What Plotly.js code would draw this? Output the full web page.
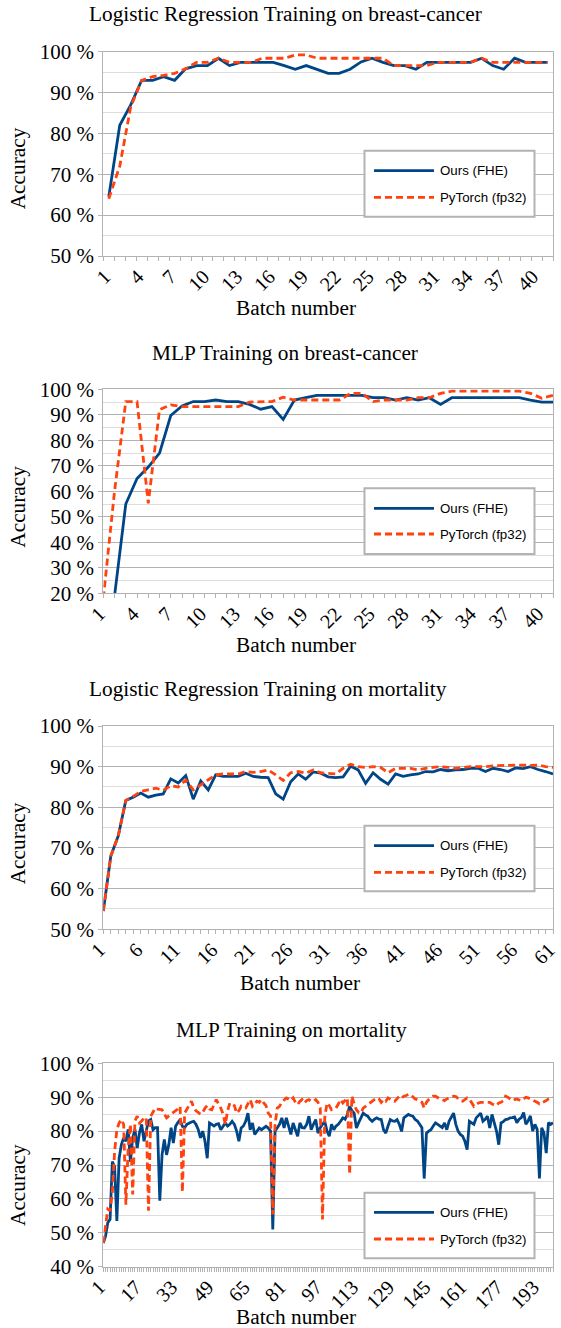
<!DOCTYPE html>
<html><head><meta charset="utf-8">
<script src="https://cdn.plot.ly/plotly-3.0.1.min.js"></script>
<style>html,body{margin:0;padding:0;background:#fff}#chart{width:561px;height:1328px}</style>
</head><body><div id="chart"></div>
<script>
// ---------------- DATA ----------------
const chartTitles = [
  'Logistic Regression Training on breast-cancer',
  'MLP Training on breast-cancer',
  'Logistic Regression Training on mortality',
  'MLP Training on mortality'
];
const seriesNames = ['Ours (FHE)', 'PyTorch (fp32)'];
const xAxisTitle = 'Batch number';
const yAxisTitle = 'Accuracy';

const lrBcFhe = [64.5, 82, 87, 93, 93, 93.9, 93, 95.8, 96.6, 96.6, 98.4, 96.6, 97.4, 97.4, 97.4, 97.4, 96.6, 95.7, 96.6, 95.7,
  94.7, 94.7, 95.7, 97.5, 98.4, 97.4, 96.6, 96.6, 95.7, 97.4, 97.4, 97.4, 97.4, 97.4, 98.4, 96.6, 95.7, 98.4, 97.4, 97.4, 97.4];
const lrBcTorch = [64, 72, 86.5, 93, 93.9, 94.2, 94.7, 95.8, 97.4, 97.4, 98.4, 97.4, 97.4, 97.4, 98.4, 98.4, 98.4, 99.2, 99.2, 98.4,
  98.4, 98.4, 98.4, 98.4, 98.4, 98.4, 96.6, 96.6, 96.6, 96.6, 97.4, 97.4, 97.4, 97.4, 98.4, 97.4, 97.4, 97.4, 97.4, 97.4, 97.4];

const mlpBcFhe = [8, 19, 55, 65, 69.5, 75, 89.7, 93.5, 95.2, 95.2, 95.8, 95.2, 95.2, 94.1, 92.2, 93.2, 88.2, 95.8, 96.7, 97.6,
  97.6, 97.6, 97.6, 97.6, 96.7, 96.7, 95.8, 96.7, 95.8, 96.7, 94.1, 96.7, 96.7, 96.7, 96.7, 96.7, 96.7, 96.7, 95.8, 95, 95];
const mlpBcTorch = [18, 60, 95.2, 95.2, 55.3, 92, 93.9, 93.2, 93.2, 93.2, 93.2, 93.2, 93.2, 95, 95.2, 95.2, 96.9, 95.8, 95.8, 95.8,
  95.8, 95.8, 98.4, 98.4, 95.2, 95.8, 95.8, 95.8, 96.7, 96.7, 98.4, 99.3, 99.3, 99.3, 99.3, 99.3, 99.3, 99.3, 98.4, 96.5, 97.6];

const lrMoFhe = [54.5, 68, 73, 81.7, 82.5, 83.5, 82.5, 83, 83.3, 87, 86, 87.8, 82, 86.5, 84.3, 88, 87.6, 87.6, 87.6, 88.4,
  87.6, 87.4, 87.3, 83.3, 82, 86.3, 88.2, 86.9, 88.7, 88.4, 87.5, 87.3, 87.5, 90.1, 89.2, 85.9, 88.5, 86.9, 85.7, 88.2,
  87.6, 88, 88.2, 88.8, 88.7, 89.3, 89, 89.2, 89.3, 89.6, 89.6, 88.8, 89.6, 89.3, 88.8, 89.7, 89.5, 90, 89.3, 88.8, 88.2];
const lrMoTorch = [54.5, 68, 73, 81.7, 82.7, 83.9, 84.3, 84.7, 84.2, 85.3, 85, 86.7, 84.3, 85.5, 86.7, 88, 88.2, 88.2, 88.2, 88.8,
  88.6, 88.8, 89.2, 88, 86.6, 88.5, 88.8, 88.4, 89.2, 88.5, 88.4, 88.2, 89.6, 90.6, 90, 89.8, 90, 89.8, 88.5, 89.6,
  89.6, 89.6, 89.2, 89.6, 89.8, 90, 89.8, 89.6, 89.8, 90, 90, 90, 90.2, 90.3, 90.4, 90.4, 90.4, 90.3, 90.4, 90, 89.8];

const mlpMoFhe = [
  47, 49, 53, 54, 71, 69.5, 53.5, 72, 76, 78,
  77, 80.5, 71, 78, 80.5, 75, 79.5, 82, 77, 80.5,
  83, 83.4, 80.4, 81, 81, 59.5, 73, 77.5, 73, 76,
  81, 76.5, 81.4, 82.5, 83.4, 81.4, 81, 82, 82.4, 82.7,
  82.9, 82, 80.5, 78, 80, 77, 72, 82.4, 82, 81.5,
  82, 82.2, 80.4, 81.5, 82.4, 81.5, 82, 82.9, 82, 80,
  77, 80.9, 81.5, 82.9, 85.3, 80.4, 82.4, 79, 80, 80.9,
  80.4, 81, 81.4, 80.9, 80, 51, 80, 81, 82, 83.9,
  80.9, 83.9, 81, 79, 82.4, 80.5, 78.5, 82.4, 81, 80.9,
  82, 84.4, 80.4, 82, 83.4, 79.4, 81, 82, 82.9, 80,
  78.5, 82, 80.4, 81.5, 82, 82.9, 83.9, 83.5, 84.9, 87.3,
  86, 85.3, 80.9, 82.5, 83.9, 85.3, 84.8, 84.4, 83.5, 82.9,
  83.5, 83.9, 83.5, 83.4, 80.4, 79.4, 81.5, 83.4, 83, 82.9,
  83.4, 82, 79.9, 83.9, 84.4, 84.9, 84.6, 84.4, 83.4, 83,
  82, 81, 66, 79.4, 80, 80.4, 81.5, 82.4, 82, 81.5,
  81, 82.4, 80.4, 82.9, 84, 85.3, 82, 80, 79, 78.5,
  77, 74.5, 82.9, 82.5, 82, 83.9, 84.5, 85.3, 82.9, 83.5,
  84.4, 80.9, 84.9, 82, 80, 76, 82.4, 82.8, 83.4, 83.5,
  83.9, 84, 84.2, 82.5, 83.5, 84, 85.5, 82, 83, 84.5,
  80, 82, 80.5, 66, 81, 79.5, 73.5, 82.5, 82, 82.5];
const mlpMoTorch = [
  47, 52, 57, 56.5, 62, 74, 80.4, 82.4, 83.4, 82,
  58.3, 75, 82, 61.3, 83, 84.4, 82.4, 83, 83.9, 84,
  56.5, 84.4, 85.5, 86.8, 86.5, 86.3, 86.3, 85, 83.9, 84.5,
  85, 85.3, 86, 86.5, 87.3, 62, 85.3, 86.5, 87.5, 88.8,
  87, 86, 85.5, 85, 85.5, 86.8, 87.5, 86.5, 86.3, 88,
  89.3, 88, 86.8, 85, 82, 86, 88.3, 88, 87.5, 85.3,
  86, 87.3, 86.8, 86.8, 88, 89.3, 87.3, 88, 88.8, 88.5,
  89.3, 88.3, 87.5, 85.3, 84.5, 55.4, 82, 86.8, 87.3, 88.5,
  89.3, 89.8, 89.5, 89, 89.8, 88.5, 87.8, 88.8, 89.3, 88.3,
  89, 89.3, 88.8, 88.8, 89.3, 88.5, 86.8, 53.9, 84, 88.3,
  87.5, 86.3, 86.5, 86.8, 88, 89.3, 88.3, 89, 89.8, 67.2,
  90.3, 88, 86.3, 85.5, 85.3, 86.8, 87.3, 87.8, 88.3, 88.8,
  89.3, 89.8, 89.5, 88.5, 89.3, 88.8, 89.8, 89.3, 89, 88.8,
  89.5, 90.3, 89.8, 90.3, 90.5, 90.8, 90.8, 90, 89.5, 89.3,
  89, 88.5, 86.8, 88.5, 89.3, 89.8, 90.3, 90.3, 89.8, 89.5,
  89.3, 89, 89.5, 89.8, 90, 90.3, 90.2, 89.5, 89, 88.8,
  89.3, 89.8, 89.5, 88.5, 87.3, 87.8, 88.3, 88.5, 88.5, 88.3,
  88.3, 88.5, 88, 87.8, 87.5, 88.3, 88.5, 89, 90.3, 90,
  89.5, 89, 89.3, 89.5, 89.2, 89, 89.5, 90, 89.8, 89.5,
  89.2, 89, 88.5, 88, 88.3, 88.5, 89, 89.5, 89.8, 90];

const bcTickLabels = [1, 4, 7, 10, 13, 16, 19, 22, 25, 28, 31, 34, 37, 40];
const lrMoTickLabels = [1, 6, 11, 16, 21, 26, 31, 36, 41, 46, 51, 56, 61];
const mlpMoTickLabels = [1, 17, 33, 49, 65, 81, 97, 113, 129, 145, 161, 177, 193];
const yTicksLrBc = [50, 60, 70, 80, 90, 100];
const yTicksMlpBc = [20, 30, 40, 50, 60, 70, 80, 90, 100];
const yTicksLrMo = [50, 60, 70, 80, 90, 100];
const yTicksMlpMo = [40, 50, 60, 70, 80, 90, 100];

// ---------------- LAYOUT / STYLE ----------------
const W = 561, H = 1328;
const px = v => v / W;
const py = v => 1 - v / H;
const BLUE = '#004586', RED = '#ff420e';
const SERIF = 'Liberation Serif, Times New Roman, serif';
const SANS = 'Liberation Sans, Arial, sans-serif';
const plotLeft = 103.3, plotRight = 553;

const panels = [
  {fhe: lrBcFhe, torch: lrBcTorch, ticks: bcTickLabels, yTicks: yTicksLrBc, centered: true,
   top: 51.7, bottom: 256, titleX: 285, titleY: 14, yTitleY: 168.3, xTitleX: 295.6, xTitleY: 307.5,
   legTop: 150.7, row1: 170.7, row2: 197.3, legBottom: 216.7},
  {fhe: mlpBcFhe, torch: mlpBcTorch, ticks: bcTickLabels, yTicks: yTicksMlpBc, centered: false,
   top: 389.3, bottom: 593.3, titleX: 285, titleY: 353.3, yTitleY: 506.7, xTitleX: 295.6, xTitleY: 645,
   legTop: 488.3, row1: 508.3, row2: 534, legBottom: 554},
  {fhe: lrMoFhe, torch: lrMoTorch, ticks: lrMoTickLabels, yTicks: yTicksLrMo, centered: false,
   top: 726, bottom: 929.3, titleX: 268, titleY: 689, yTitleY: 843.3, xTitleX: 299.6, xTitleY: 982.5,
   legTop: 825.7, row1: 845.7, row2: 872.3, legBottom: 891.3},
  {fhe: mlpMoFhe, torch: mlpMoTorch, ticks: mlpMoTickLabels, yTicks: yTicksMlpMo, centered: false,
   top: 1063.3, bottom: 1266.7, titleX: 291, titleY: 1030, yTitleY: 1185, xTitleX: 295.6, xTitleY: 1316.5,
   legTop: 1192.7, row1: 1212.3, row2: 1239, legBottom: 1258.3}
];

const data = [];
const layout = {
  width: W, height: H, margin: {l: 0, r: 0, t: 0, b: 0},
  paper_bgcolor: '#fff', plot_bgcolor: '#fff', showlegend: false,
  annotations: [], shapes: []
};

panels.forEach((p, k) => {
  const n = p.fhe.length;
  const batches = p.fhe.map((_, i) => i + 1);
  const sfx = k === 0 ? '' : String(k + 1);
  const xa = 'x' + sfx, ya = 'y' + sfx;

  data.push({x: batches, y: p.fhe, xaxis: xa, yaxis: ya, type: 'scatter', mode: 'lines',
    line: {color: BLUE, width: 2.8}, hoverinfo: 'skip', name: seriesNames[0]});
  data.push({x: batches, y: p.torch, xaxis: xa, yaxis: ya, type: 'scatter', mode: 'lines',
    line: {color: RED, width: 2.8, dash: '7px,4px'}, hoverinfo: 'skip', name: seriesNames[1]});

  const range = p.centered ? [0.5, n + 0.5] : [1, n];
  const minorVals = [];
  for (let v = range[0]; v <= range[1] + 1e-9; v += 1) minorVals.push(v);
  const yMin = p.yTicks[0], yMax = p.yTicks[p.yTicks.length - 1];
  const yMinor = p.yTicks.slice(0, -1).map((v, i) => (v + p.yTicks[i + 1]) / 2);

  layout['xaxis' + sfx] = {
    domain: [px(plotLeft), px(plotRight)], anchor: ya,
    range: [range[0] - 1e-6, range[1] + 1e-6],
    tickmode: 'array', tickvals: p.ticks, ticktext: p.ticks.map(String),
    ticks: '', tickangle: -45, ticklabeloverflow: 'allow', ticklabelshift: -4,
    tickfont: {family: SERIF, size: 20, color: '#000'},
    showline: true, mirror: true, linecolor: '#b3b3b3', linewidth: 1,
    showgrid: false, zeroline: false, fixedrange: true,
    minor: {tickmode: 'array', tickvals: minorVals, ticks: 'outside', ticklen: 4,
            tickcolor: '#b3b3b3', tickwidth: 1, showgrid: false}
  };
  layout['yaxis' + sfx] = {
    domain: [py(p.bottom), py(p.top)], anchor: xa, range: [yMin, yMax],
    tickmode: 'array', tickvals: p.yTicks, ticktext: p.yTicks.map(v => v + ' %'),
    ticks: 'outside', ticklen: 4, tickcolor: '#b3b3b3', tickwidth: 1,
    tickfont: {family: SERIF, size: 21, color: '#000'},
    showline: true, mirror: true, linecolor: '#b3b3b3', linewidth: 1,
    showgrid: true, gridcolor: '#b3b3b3', gridwidth: 1, zeroline: false, fixedrange: true,
    minor: {tickmode: 'array', tickvals: yMinor, ticks: '', showgrid: true,
            gridcolor: '#dddddd', gridwidth: 1}
  };

  // chart title & axis titles
  layout.annotations.push({text: chartTitles[k], xref: 'paper', yref: 'paper',
    x: px(p.titleX), y: py(p.titleY), xanchor: 'center', yanchor: 'middle', showarrow: false,
    font: {family: SERIF, size: 21.3, color: '#000'}});
  layout.annotations.push({text: yAxisTitle, xref: 'paper', yref: 'paper', textangle: -90,
    x: px(18), y: py(p.yTitleY), xanchor: 'center', yanchor: 'middle', showarrow: false,
    font: {family: SERIF, size: 21.3, color: '#000'}});
  layout.annotations.push({text: xAxisTitle, xref: 'paper', yref: 'paper',
    x: px(p.xTitleX), y: py(p.xTitleY), xanchor: 'center', yanchor: 'middle', showarrow: false,
    font: {family: SERIF, size: 21.3, color: '#000'}});

  // legend box
  layout.shapes.push({type: 'rect', xref: 'paper', yref: 'paper', layer: 'above',
    x0: px(364.5), x1: px(534.5), y0: py(p.legBottom), y1: py(p.legTop),
    line: {color: '#b3b3b3', width: 2}, fillcolor: '#ffffff'});
  layout.shapes.push({type: 'line', xref: 'paper', yref: 'paper', layer: 'above',
    x0: px(374), x1: px(434), y0: py(p.row1), y1: py(p.row1), line: {color: BLUE, width: 2.8}});
  layout.shapes.push({type: 'line', xref: 'paper', yref: 'paper', layer: 'above',
    x0: px(374), x1: px(434), y0: py(p.row2), y1: py(p.row2), line: {color: RED, width: 2.8, dash: '7px,4px'}});
  [p.row1, p.row2].forEach((r, j) => {
    layout.annotations.push({text: seriesNames[j], xref: 'paper', yref: 'paper',
      x: px(438), y: py(r), xanchor: 'left', yanchor: 'middle', showarrow: false,
      font: {family: SANS, size: 13.3, color: '#000'}});
  });
});

Plotly.newPlot('chart', data, layout, {staticPlot: true, displayModeBar: false});
</script>
</body></html>
